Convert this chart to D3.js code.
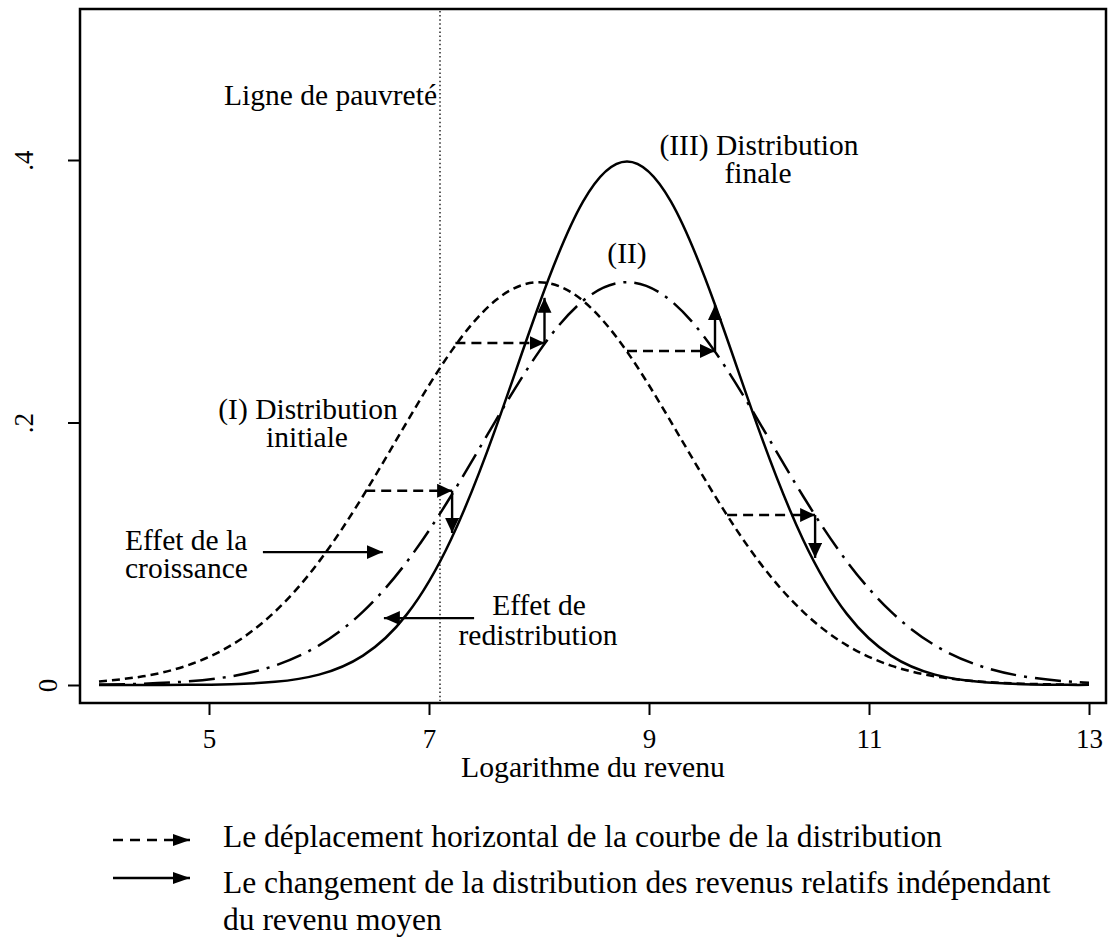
<!DOCTYPE html>
<html>
<head>
<meta charset="utf-8">
<script src="https://cdn.jsdelivr.net/npm/d3@7/dist/d3.min.js"></script>
<style>
  html, body { margin: 0; padding: 0; background: #fff; }
  svg { display: block; }
  text { font-family: "Liberation Serif", "Times New Roman", serif; fill: #000; }
</style>
</head>
<body>
<svg id="chart" width="1109" height="943"></svg>
<script>
// ---- data ----
const xGrid = [4.0, 4.4, 4.8, 5.2, 5.6, 6.0, 6.4, 6.8, 7.2, 7.6, 8.0, 8.4, 8.8, 9.2, 9.6, 10.0, 10.4, 10.8, 11.2, 11.6, 12.0, 12.4, 12.8, 13.0];
const densInitial = [0.0027, 0.0066, 0.0148, 0.0302, 0.0559, 0.0940, 0.1440, 0.2005, 0.2540, 0.2927, 0.3069, 0.2927, 0.2540, 0.2005, 0.1440, 0.0940, 0.0559, 0.0302, 0.0148, 0.0066, 0.0027, 0.0010, 0.0003, 0.0002];
const densMiddle  = [0.0003, 0.0010, 0.0027, 0.0066, 0.0148, 0.0302, 0.0559, 0.0940, 0.1440, 0.2005, 0.2540, 0.2927, 0.3069, 0.2927, 0.2540, 0.2005, 0.1440, 0.0940, 0.0559, 0.0302, 0.0148, 0.0066, 0.0027, 0.0017];
const densFinal   = [0.0000, 0.0000, 0.0001, 0.0006, 0.0024, 0.0079, 0.0224, 0.0540, 0.1109, 0.1942, 0.2897, 0.3683, 0.3989, 0.3683, 0.2897, 0.1942, 0.1109, 0.0540, 0.0224, 0.0079, 0.0024, 0.0006, 0.0001, 0.0001];

const povertyLine = 7.1;

const xTicks = [5, 7, 9, 11, 13];
const xTickLabels = ["5", "7", "9", "11", "13"];
const yTicks = [0, 0.2, 0.4];
const yTickLabels = ["0", ".2", ".4"];

// horizontal shift arrows (growth effect)
const shiftX0 = [6.42, 7.24, 8.80, 9.71];
const shiftX1 = [7.21, 8.05, 9.60, 10.51];
const shiftY  = [0.148, 0.2606, 0.2545, 0.1295];
// vertical redistribution arrows
const redistY1 = [0.1158, 0.295, 0.2895, 0.0968];

// explanatory arrows
const effectX0 = [5.49, 7.41];
const effectX1 = [6.58, 6.59];
const effectY  = [0.1013, 0.051];

const xTitle = "Logarithme du revenu";
const legendLabels = [
  ["Le déplacement horizontal de la courbe de la distribution"],
  ["Le changement de la distribution des revenus relatifs indépendant", "du revenu moyen"]
];

// ---- drawing ----
const svg = d3.select("#chart");
const x = d3.scaleLinear().domain([4, 13]).range([99, 1089]);
const y = d3.scaleLinear().domain([0, 0.4]).range([685, 160]);

const box = { left: 80, top: 9, right: 1106, bottom: 703 };

const defs = svg.append("defs");
function marker(id, len, half) {
  defs.append("marker")
    .attr("id", id)
    .attr("markerUnits", "userSpaceOnUse")
    .attr("viewBox", `0 ${-half} ${len} ${2 * half}`)
    .attr("refX", len).attr("refY", 0)
    .attr("markerWidth", len).attr("markerHeight", 2 * half)
    .attr("orient", "auto")
    .append("path")
    .attr("d", `M0,${-half}L${len},0L0,${half}Z`)
    .attr("fill", "#000");
}
marker("head", 15, 7);
marker("headLbl", 16, 7);
marker("headLeg", 17, 6);

// frame
svg.append("rect")
  .attr("x", box.left).attr("y", box.top)
  .attr("width", box.right - box.left).attr("height", box.bottom - box.top)
  .attr("fill", "none").attr("stroke", "#000").attr("stroke-width", 2.5);

// poverty line
svg.append("line")
  .attr("x1", x(povertyLine)).attr("x2", x(povertyLine))
  .attr("y1", box.top + 2).attr("y2", box.bottom - 2)
  .attr("stroke", "#333").attr("stroke-width", 1.6)
  .attr("stroke-dasharray", "1.5,2.6");

// axes
const xAxis = d3.axisBottom(x).tickValues(xTicks)
  .tickFormat((d, i) => xTickLabels[i]).tickSize(12);
const gx = svg.append("g").attr("transform", `translate(0,${box.bottom})`).call(xAxis);
gx.select(".domain").remove();
gx.selectAll(".tick line").attr("stroke", "#000").attr("stroke-width", 2);
gx.selectAll(".tick text").attr("y", 45).attr("dy", 0)
  .style("font-family", '"Liberation Serif", "Times New Roman", serif')
  .style("font-size", "27px").attr("fill", "#000");

const yAxis = d3.axisLeft(y).tickValues(yTicks)
  .tickFormat((d, i) => yTickLabels[i]).tickSize(12);
const gy = svg.append("g").attr("transform", `translate(${box.left},0)`).call(yAxis);
gy.select(".domain").remove();
gy.selectAll(".tick line").attr("stroke", "#000").attr("stroke-width", 2);
gy.selectAll(".tick text")
  .attr("x", 0).attr("dy", 0)
  .attr("y", d => d === 0 ? -23 : -47)
  .attr("text-anchor", "middle")
  .attr("transform", "rotate(-90)")
  .style("font-family", '"Liberation Serif", "Times New Roman", serif')
  .style("font-size", "27px").attr("fill", "#000");

// x axis title
svg.append("text")
  .attr("x", (box.left + box.right) / 2).attr("y", 777)
  .attr("text-anchor", "middle")
  .style("font-size", "29.7px")
  .text(xTitle);

// curves
const line = d3.line().curve(d3.curveNatural)
  .x((d, i) => x(xGrid[i])).y(d => y(d));

svg.append("path").datum(densInitial).attr("d", line)
  .attr("fill", "none").attr("stroke", "#000").attr("stroke-width", 2.5)
  .attr("stroke-dasharray", "8,5");
svg.append("path").datum(densMiddle).attr("d", line)
  .attr("fill", "none").attr("stroke", "#000").attr("stroke-width", 2.5)
  .attr("stroke-dasharray", "26,8,3,8");
svg.append("path").datum(densFinal).attr("d", line)
  .attr("fill", "none").attr("stroke", "#000").attr("stroke-width", 2.5);

// shift arrows (dashed horizontal)
svg.append("g").selectAll("line").data(shiftX0).join("line")
  .attr("x1", (d) => x(d)).attr("x2", (d, i) => x(shiftX1[i]))
  .attr("y1", (d, i) => y(shiftY[i])).attr("y2", (d, i) => y(shiftY[i]))
  .attr("stroke", "#000").attr("stroke-width", 2.4)
  .attr("stroke-dasharray", "10,6")
  .attr("marker-end", "url(#head)");

// redistribution arrows (solid vertical)
svg.append("g").selectAll("line").data(shiftX1).join("line")
  .attr("x1", d => x(d)).attr("x2", d => x(d))
  .attr("y1", (d, i) => y(shiftY[i])).attr("y2", (d, i) => y(redistY1[i]))
  .attr("stroke", "#000").attr("stroke-width", 2.4)
  .attr("marker-end", "url(#head)");

// effect label arrows
svg.append("g").selectAll("line").data(effectX0).join("line")
  .attr("x1", d => x(d)).attr("x2", (d, i) => x(effectX1[i]))
  .attr("y1", (d, i) => y(effectY[i])).attr("y2", (d, i) => y(effectY[i]))
  .attr("stroke", "#000").attr("stroke-width", 2.2)
  .attr("marker-end", "url(#headLbl)");

// annotations
const ann = svg.append("g").style("font-size", "29.5px");
function txt(str, xx, yy, anchor) {
  ann.append("text").attr("x", xx).attr("y", yy)
    .attr("text-anchor", anchor || "start").text(str);
}
txt("Ligne de pauvreté", 437, 105, "end");
txt("(III) Distribution", 759, 155, "middle");
txt("finale", 758, 183, "middle");
txt("(II)", 627, 263, "middle");
txt("(I) Distribution", 308, 419, "middle");
txt("initiale", 307, 447, "middle");
txt("Effet de la", 125, 550, "start");
txt("croissance", 125, 578, "start");
txt("Effet de", 539, 615, "middle");
txt("redistribution", 538, 645, "middle");

// legend
const leg = svg.append("g");
leg.append("line").attr("x1", 113).attr("x2", 190).attr("y1", 840).attr("y2", 840)
  .attr("stroke", "#000").attr("stroke-width", 2.4).attr("stroke-dasharray", "10,7")
  .attr("marker-end", "url(#headLeg)");
leg.append("line").attr("x1", 113).attr("x2", 190).attr("y1", 878).attr("y2", 878)
  .attr("stroke", "#000").attr("stroke-width", 2.6)
  .attr("marker-end", "url(#headLeg)");
const legStyle = "31.5px";
leg.append("text").attr("x", 223).attr("y", 847).style("font-size", legStyle).text(legendLabels[0][0]);
leg.append("text").attr("x", 223).attr("y", 893).style("font-size", legStyle).text(legendLabels[1][0]);
leg.append("text").attr("x", 223).attr("y", 930).style("font-size", legStyle).text(legendLabels[1][1]);
</script>
</body>
</html>
